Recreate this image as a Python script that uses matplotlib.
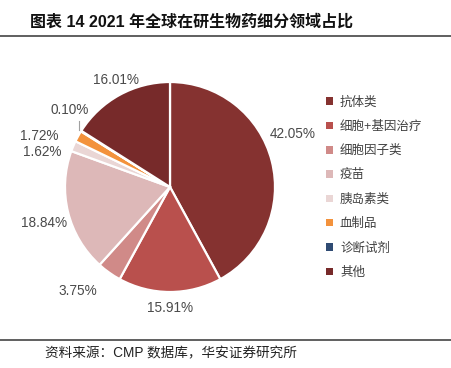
import numpy as np
import matplotlib.pyplot as plt
from matplotlib.patches import Patch
from matplotlib.lines import Line2D

plt.rcParams['font.family'] = ['Liberation Sans', 'Noto Sans CJK SC', 'DejaVu Sans']

# Data
categories = ['抗体类', '细胞+基因治疗', '细胞因子类', '疫苗', '胰岛素类', '血制品', '诊断试剂', '其他']
shares = [42.05, 15.91, 3.75, 18.84, 1.62, 1.72, 0.10, 16.01]
colors = ['#853230', '#B9504D', '#D08A88', '#DDB8B8', '#EAD6D5', '#F3923C', '#2F4B73', '#772A2A']

W, H = 451, 368
fig = plt.figure(figsize=(W / 100, H / 100), dpi=100)

# pie axes: center (170, 187) px, radius 105 px
R = 105
half = 1.4 * R
cx, cy = 170, 187
ax = fig.add_axes([(cx - half) / W, (H - cy - half) / H, 2 * half / W, 2 * half / H])
wedges, _ = ax.pie(shares, colors=colors, startangle=90, counterclock=False,
                   radius=1, wedgeprops=dict(edgecolor='white', linewidth=1.6))
ax.set_xlim(-1.4, 1.4)
ax.set_ylim(-1.4, 1.4)
ax.set_aspect('equal')
ax.axis('off')

# label placement: radial factor and angle nudge (degrees) per slice
label_r = [1.27, 1.15, 1.32, 1.25, 1.265, 1.34, 1.20, 1.14]
label_da = [9, 0, -6, 2, 7.7, 7.5, -5.4, -2]
for w, s, lr, da in zip(wedges, shares, label_r, label_da):
    mid = np.deg2rad((w.theta1 + w.theta2) / 2 + da)
    x, y = lr * np.cos(mid), lr * np.sin(mid)
    ax.text(x, y, f'{s:.2f}%', ha='center', va='center', fontsize=9.8,
            color='#4a4a4a', clip_on=False)
    if s < 0.5:
        m0 = np.deg2rad((w.theta1 + w.theta2) / 2)
        ex, ey = 1.02 * np.cos(m0), 1.02 * np.sin(m0)
        ax.plot([ex, ex], [ey, y - 0.1], color='#A0A0A0', lw=0.8)

# legend
handles = [Patch(facecolor=c, edgecolor='none') for c in colors]
fig.legend(handles, categories, loc='upper left', bbox_to_anchor=(315 / W, 1 - 85 / H),
           frameon=False, fontsize=9, handlelength=0.55, handleheight=0.55,
           handletextpad=0.55, labelspacing=0.98, labelcolor='#404040')

# title and rules
fig.text(30 / W, 1 - 22 / H, '图表 14 2021 年全球在研生物药细分领域占比', fontsize=11.5,
         fontweight='bold', va='center', ha='left', color='#111111')
fig.add_artist(Line2D([0, 1], [1 - 36 / H, 1 - 36 / H], color='#444444', lw=1.2))
fig.add_artist(Line2D([0, 1], [1 - 340 / H, 1 - 340 / H], color='#444444', lw=1.2))
fig.text(45 / W, 1 - 353 / H, '资料来源：CMP 数据库，华安证券研究所', fontsize=9.8,
         va='center', ha='left', color='#222222')

fig.savefig('out.png', dpi=100)
